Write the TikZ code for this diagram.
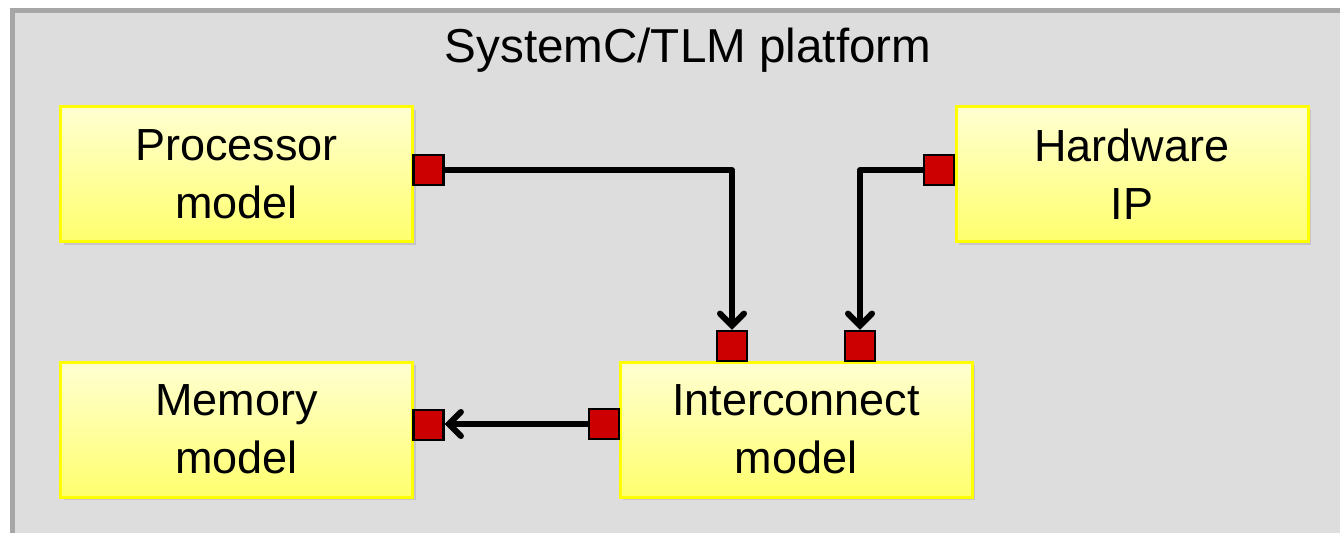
\documentclass[tikz,border=0pt]{standalone}
\usepackage{fontspec}
\setmainfont{Liberation Sans}
\usepackage{tikz}
\usepackage{xcolor}
\usetikzlibrary{arrows.meta,positioning,shadows}
\definecolor{platbg}{HTML}{DDDDDD}
\definecolor{platedge}{HTML}{A6A6A6}
\definecolor{boxedge}{HTML}{FFFF00}
\definecolor{boxtop}{HTML}{FFFFD2}
\definecolor{boxbot}{HTML}{FFFF6E}
\definecolor{portred}{HTML}{CC0000}
\tikzset{
  model/.style={draw=boxedge,line width=1.5pt,top color=boxtop,bottom color=boxbot,
                minimum width=176pt,minimum height=67.5pt,align=center,
                font=\fontsize{22.5}{29}\selectfont,inner sep=0pt,
                drop shadow={shadow xshift=1.5pt,shadow yshift=-1.5pt,opacity=0.25}},
  port/.style={draw=black,fill=portred,line width=1.2pt,
               minimum size=15pt,inner sep=0pt},
  flowarr/.style={-{Straight Barb[length=6pt,width=12pt,line cap=round]},
                  line width=3pt,line join=round}
}

\begin{document}
\begin{tikzpicture}[x=0.5pt,y=-0.5pt]
  \useasboundingbox (0,0) rectangle (1340,532);
  \clip (0,0) rectangle (1340,532);
  \fill[white] (0,0) rectangle (1340,532);
  % platform frame
  \draw[platedge,fill=platbg,line width=2.5pt] (12.5,10.5) rectangle (1360,560);
  \node[font=\fontsize{23.8}{28.5}\selectfont] (title) at (688,50) {SystemC/TLM platform};

  % models
  \node[model] (proc) at (236.5,174) {Processor\\model};
  \node[model] (hwip) at (1132,174) {Hardware\\IP};
  \node[model] (mem) at (236.5,429.5) {Memory\\model};
  \node[model] (icon) at (796,429.5) {Interconnect\\model};

  % ports
  \node[port] (procport) at (428.5,170) {};
  \node[port] (hwport) at (939,170) {};
  \node[port] (icontopa) at (732,346) {};
  \node[port] (icontopb) at (860,346) {};
  \node[port] (iconleft) at (604,424) {};
  \node[port] (memport) at (428.5,425) {};

  \draw[flowarr] (procport.east) -| (icontopa.north);
  \draw[flowarr] (hwport.west) -| (icontopb.north);
  \draw[flowarr] (iconleft.west) -- (iconleft.west -| memport.east);
\end{tikzpicture}
\end{document}
